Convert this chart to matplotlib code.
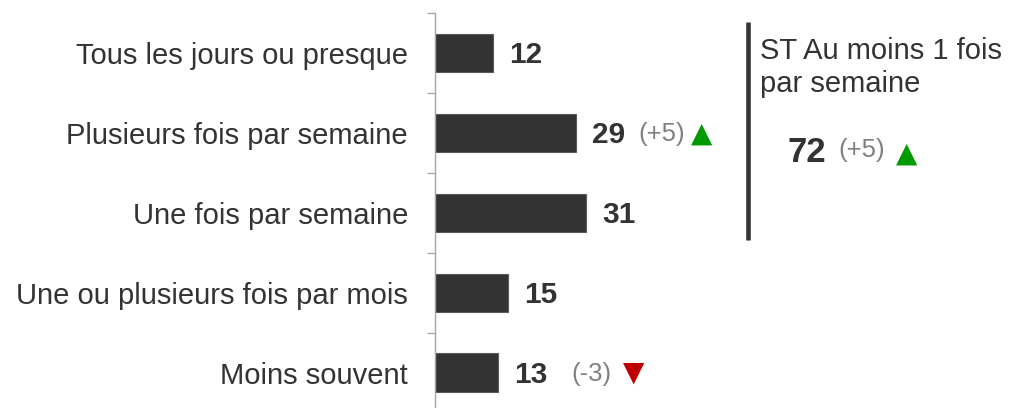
import matplotlib.pyplot as plt
import numpy as np

plt.rcParams['font.family'] = ['Liberation Sans', 'DejaVu Sans']

categories = ["Tous les jours ou presque", "Plusieurs fois par semaine",
              "Une fois par semaine", "Une ou plusieurs fois par mois",
              "Moins souvent"]
values = [12, 29, 31, 15, 13]
deltas = [None, 5, None, None, -3]

total_label = "ST Au moins 1 fois\npar semaine"
total_value = 72
total_delta = 5

W, H = 1012, 408
fig = plt.figure(figsize=(W / 100, H / 100), dpi=100)

# axes placed in pixels; bottom row runs past the lower edge of the figure
left, top, width, height = 435, 12.7, 292.2, 400
ax = fig.add_axes([left / W, 1 - (top + height) / H, width / W, height / H])

y = np.arange(len(categories))
ax.barh(y, values, height=0.48, color='#333333', edgecolor='#5a5a5a', linewidth=0.8)
ax.set_xlim(0, 60)
ax.set_ylim(len(categories) - 0.5, -0.5)

ax.set_yticks(y)
ax.set_yticklabels(categories, fontsize=21, color='#333333')
ax.set_yticks(np.arange(len(categories)) - 0.5, minor=True)
ax.tick_params(axis='y', which='major', length=0, pad=19.5)
ax.tick_params(axis='y', which='minor', length=5.8, width=1, color='#a6a6a6')
ax.set_xticks([])
for side in ['top', 'right', 'bottom']:
    ax.spines[side].set_visible(False)
ax.spines['left'].set_color('#a6a6a6')
ax.spines['left'].set_linewidth(1)

up_col, down_col, grey = '#009a00', '#c00000', '#808080'

for i, (v, d) in enumerate(zip(values, deltas)):
    lab = ax.annotate(str(v), xy=(v, i), xytext=(16, -2), textcoords='offset pixels',
                      ha='left', va='center', fontsize=21.5, fontweight='bold',
                      color='#333333', annotation_clip=False)
    if d is None:
        continue
    up = d > 0
    txt = f"(+{d})" if up else f"({d})"
    gap = 13 if up else 24
    dl = ax.annotate(txt, xy=(1, 0.5), xycoords=lab, xytext=(gap, 1),
                     textcoords='offset pixels', ha='left', va='center',
                     fontsize=18.5, color=grey, annotation_clip=False)
    ax.annotate("▲" if up else "▼", xy=(1, 0.5), xycoords=dl,
                xytext=(6 if up else 11, 0 if up else 1), textcoords='offset pixels',
                ha='left', va='center', fontsize=20, color=up_col if up else down_col,
                family='DejaVu Sans', annotation_clip=False)

# summary block on the right
fig.add_artist(plt.Line2D([748 / W, 748 / W], [1 - 21.7 / H, 1 - 240 / H],
                          color='#333333', linewidth=3.3, solid_capstyle='butt'))
fig.text(760 / W, 1 - 37 / H, total_label, ha='left', va='top', fontsize=21,
         color='#333333', linespacing=1.22)
tv = fig.text(788 / W, 1 - 153 / H, str(total_value), ha='left', va='center',
              fontsize=25, fontweight='bold', color='#333333')
td = ax.annotate(f"(+{total_delta})", xy=(1, 0.5), xycoords=tv, xytext=(12, 3),
                 textcoords='offset pixels', ha='left', va='center', fontsize=18.5,
                 color=grey, annotation_clip=False)
ax.annotate("▲", xy=(1, 0.5), xycoords=td, xytext=(11, -4), textcoords='offset pixels',
            ha='left', va='center', fontsize=20, color=up_col, family='DejaVu Sans',
            annotation_clip=False)

fig.savefig('out.png', dpi=100)
